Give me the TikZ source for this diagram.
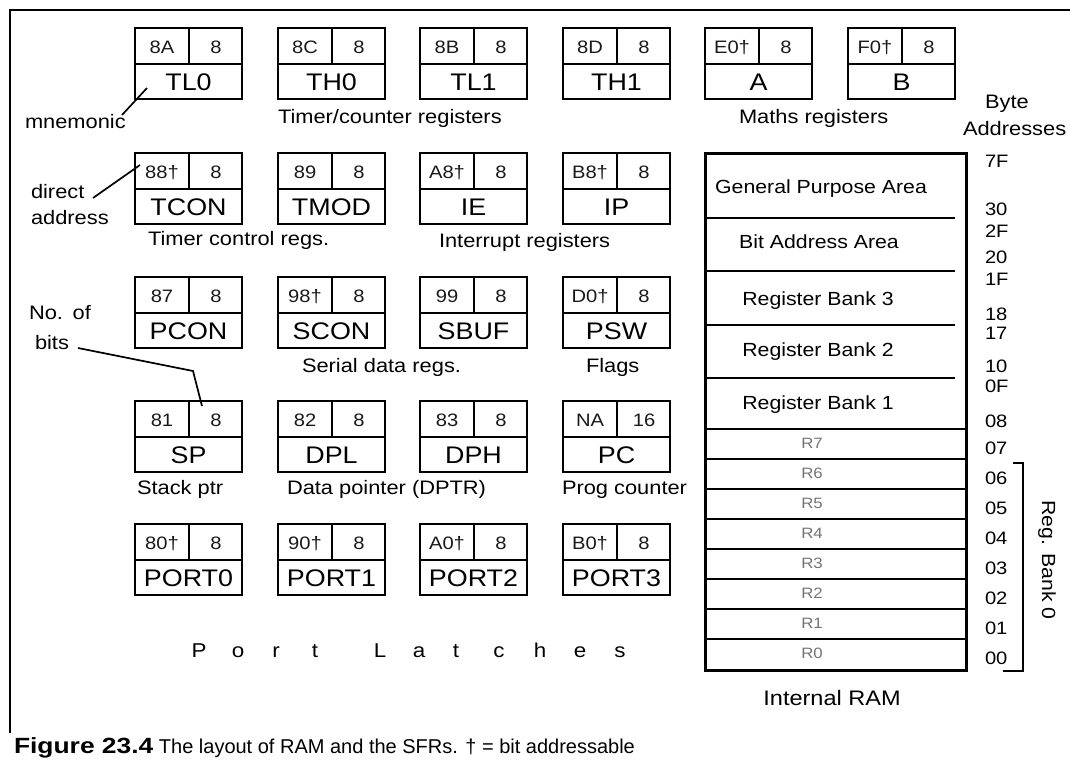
\documentclass[tikz,border=0pt]{standalone}
\usepackage{fontspec}
\setmainfont{Liberation Sans}[FakeStretch=1.12]
\newfontfamily\capfont{Liberation Sans}
\newfontfamily\capboldfont{Liberation Sans Bold}[FakeStretch=1.2]
\usetikzlibrary{calc}
\newcommand\fs[1]{\fontsize{#1}{#1}\selectfont}
\tikzset{
  every node/.style={inner sep=0pt,outer sep=0pt},
  regbox/.style={draw,line width=1.7pt,minimum width=107pt,minimum height=71pt,anchor=north west},
  boxline/.style={line width=1.7pt},
  celltxt/.style={font=\fs{18},anchor=base,text=black!90},
  mnemtxt/.style={font=\fs{24},anchor=base},
  lbl/.style={font=\fs{19.5},anchor=base west},
  leader/.style={line width=1.7pt},
  frameline/.style={line width=1.5pt},
  ramouter/.style={draw,line width=3pt,minimum width=261pt,minimum height=517pt,anchor=north west},
  bankline/.style={line width=2pt},
  regline/.style={line width=2.7pt},
  ramtxt/.style={font=\fs{19},anchor=base},
  rtxt/.style={font=\fs{15},anchor=base,text=black!55},
  addr/.style={font=\fs{18},anchor=base west},
  bracket/.style={line width=2pt},
  plet/.style={font=\fs{20},anchor=base},
}
\newcommand\sfr[6]{%
  \node[regbox] (#1) at (#2,#3) {};
  \draw[boxline] ([yshift=-36pt]#1.north west) -- ([yshift=-36pt]#1.north east);
  \draw[boxline] ([xshift=54pt]#1.north west) -- ([xshift=54pt,yshift=-36pt]#1.north west);
  \node[celltxt] (#1-addr) at ([xshift=27pt,yshift=-25.5pt]#1.north west) {#4};
  \node[celltxt] (#1-bits) at ([xshift=81pt,yshift=-25.5pt]#1.north west) {#5};
  \node[mnemtxt] (#1-name) at ([yshift=-62.5pt]#1.north) {#6};
}
\begin{document}
\begin{tikzpicture}[x=1pt,y=-1pt]
\useasboundingbox (0,0) rectangle (1070,760);
% frame
\coordinate (frA) at (10,733);
\coordinate (frB) at (10,10);
\coordinate (frC) at (1070,10);
\draw[frameline] (frA) -- (frB) -- (frC);

% SFR boxes
\sfr{tl0}{135}{28}{8A}{8}{TL0}
\sfr{th0}{278}{28}{8C}{8}{TH0}
\sfr{tl1}{420}{28}{8B}{8}{TL1}
\sfr{th1}{563}{28}{8D}{8}{TH1}
\sfr{regA}{705}{28}{E0†}{8}{A}
\sfr{regB}{848}{28}{F0†}{8}{B}

\sfr{tcon}{135}{153}{88†}{8}{TCON}
\sfr{tmod}{278}{153}{89}{8}{TMOD}
\sfr{ie}{420}{153}{A8†}{8}{IE}
\sfr{ip}{563}{153}{B8†}{8}{IP}

\sfr{pcon}{135}{277}{87}{8}{PCON}
\sfr{scon}{278}{277}{98†}{8}{SCON}
\sfr{sbuf}{420}{277}{99}{8}{SBUF}
\sfr{psw}{563}{277}{D0†}{8}{PSW}

\sfr{sp}{135}{401}{81}{8}{SP}
\sfr{dpl}{278}{401}{82}{8}{DPL}
\sfr{dph}{420}{401}{83}{8}{DPH}
\sfr{pc}{563}{401}{NA}{16}{PC}

\sfr{port0}{135}{524}{80†}{8}{PORT0}
\sfr{port1}{278}{524}{90†}{8}{PORT1}
\sfr{port2}{420}{524}{A0†}{8}{PORT2}
\sfr{port3}{563}{524}{B0†}{8}{PORT3}

% group labels
\node[lbl] (lmnem) at (25,128) {mnemonic};
\node[lbl] (ltimer) at (278,123) {Timer/counter registers};
\node[lbl] (lmaths) at (739,123) {Maths registers};
\node[lbl] (ldirect) at (31,198) {direct};
\node[lbl] (laddress) at (31,224) {address};
\node[lbl] (ltcon) at (148,245) {Timer control regs.};
\node[lbl] (lint) at (439,247) {Interrupt registers};
\node[lbl] (lno) at (29,319) {No.\hspace{0.5em}of};
\node[lbl] (lbits) at (35,349) {bits};
\node[lbl] (lserial) at (302,372) {Serial data regs.};
\node[lbl] (lflags) at (586,372) {Flags};
\node[lbl] (lstack) at (137,494) {Stack ptr};
\node[lbl] (ldptr) at (287,494) {Data pointer (DPTR)};
\node[lbl] (lprog) at (562,494) {Prog counter};

% leader lines
\coordinate (mnA) at (122,115);
\coordinate (mnB) at (147,88);
\draw[leader] (mnA) -- (mnB);
\coordinate (daA) at (93,198);
\coordinate (daB) at (140,165);
\draw[leader] (daA) -- (daB);
\coordinate (nbA) at (78,348);
\coordinate (nbB) at (193,371);
\coordinate (nbC) at (202,406);
\draw[leader] (nbA) -- (nbB) -- (nbC);

% Port Latches
\foreach \ch/\x [count=\i] in {P/199,o/238,r/276,t/315,L/380,a/419,t/456,c/499,h/540,e/580,s/620}
  \node[plet] (pl\i) at (\x,657) {\ch};

% Internal RAM
\node[ramouter] (ram) at (705,153) {};
\foreach \y in {218,271,325,378}
  \draw[bankline] (705,\y) -- (955,\y);
\foreach \y in {429,459,489,519,549,579,609,639}
  \draw[regline] (705,\y) -- (966,\y);
\node[ramtxt] (tgpa) at (821,193) {General Purpose Area};
\node[ramtxt] (tbaa) at (819,248) {Bit Address Area};
\node[ramtxt] (trb3) at (818,305) {Register Bank 3};
\node[ramtxt] (trb2) at (818,356) {Register Bank 2};
\node[ramtxt] (trb1) at (818,409) {Register Bank 1};
\foreach \r [count=\k from 0] in {7,6,5,4,3,2,1,0}
  \node[rtxt] (treg\r) at (812,448+30*\k) {R\r};
\node[font=\fs{21},anchor=base] (tram) at (832,705) {Internal RAM};

% byte addresses
\node[lbl] (lbyte) at (985,108) {Byte};
\node[lbl] (laddrs) at (963,135) {Addresses};
\foreach \t/\y [count=\i] in {7F/167,30/215,2F/237,20/263,1F/285,18/320,17/339,10/372,0F/392,08/427,07/454,06/484,05/514,04/544,03/574,02/604,01/634,00/664}
  \node[addr] (ad\i) at (985,\y) {\t};

% bracket for register bank 0
\coordinate (brA) at (1013,463);
\coordinate (brB) at (1023,463);
\coordinate (brC) at (1023,671);
\coordinate (brD) at (1003,671);
\draw[bracket] (brA) -- (brB) -- (brC) -- (brD);
\node[font=\fs{19},rotate=-90] (lrb0) at (1047,560) {Reg. Bank 0};

% caption
\node[anchor=base west,font=\capfont\fs{20}] (cap) at (14,753) {{\capboldfont\fs{22}Figure 23.4} The layout of RAM and the SFRs. † = bit addressable};
\end{tikzpicture}
\end{document}
